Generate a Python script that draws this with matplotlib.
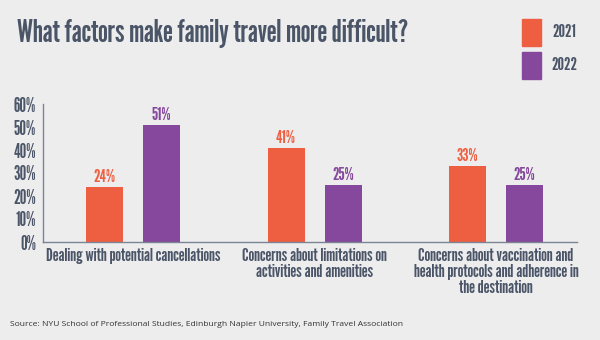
import matplotlib
matplotlib.use("Agg")
import matplotlib.pyplot as plt

# data
categories = ["Dealing with potential cancellations",
              "Concerns about limitations on\nactivities and amenities",
              "Concerns about vaccination and\nhealth protocols and adherence in\nthe destination"]
years = ["2021", "2022"]
v2021 = [24, 41, 33]
v2022 = [51, 25, 25]
yticks = [0, 10, 20, 30, 40, 50, 60]

bg = "#ededed"
orange = "#ee5e40"
purple = "#85489c"
slate = "#4b5568"
cond = ["League Gothic", "DejaVu Sans"]

fig = plt.figure(figsize=(6, 3.4), dpi=100, facecolor=bg)
ax = fig.add_axes([43/600, 98/340, 534/600, 138/340], facecolor=bg)

x = list(range(len(categories)))
w = 0.204
off = 0.157
b1 = ax.bar([i - off for i in x], v2021, w, color=orange)
b2 = ax.bar([i + off for i in x], v2022, w, color=purple)
for bars, vals, c in [(b1, v2021, orange), (b2, v2022, purple)]:
    for r, v in zip(bars, vals):
        ax.text(r.get_x() + r.get_width()/2, v + 0.8, f"{v}%", ha="center", va="bottom",
                color=c, fontsize=13, family=cond)

ax.set_xlim(-0.497, 2.447)
ax.set_ylim(0, 60)
ax.set_yticks(yticks)
ax.set_yticklabels([f"{t}%" for t in yticks], family=cond, fontsize=13.5, color=slate)
ax.set_xticks(x)
ax.set_xticklabels(categories, family=cond, fontsize=13.4, color=slate,
                   linespacing=1.02, va="top")
ax.tick_params(axis="both", length=0, pad=5)
ax.tick_params(axis="x", pad=4)
for s in ["top", "right"]:
    ax.spines[s].set_visible(False)
for s in ["left", "bottom"]:
    ax.spines[s].set_color("#7a8494")
    ax.spines[s].set_linewidth(1)

fig.text(17/600, 1 - 33/340, "What factors make family travel more difficult?",
         family=cond, fontsize=22.5, color=slate, va="center")

# legend
for yy, c, lab in [(19, orange, years[0]), (52, purple, years[1])]:
    fig.patches.append(plt.Rectangle((522/600, 1 - (yy + 27)/340), 19/600, 27/340,
                                     transform=fig.transFigure, color=c))
    fig.text(564/600, 1 - (yy + 13)/340, lab, family=cond,
             fontsize=13, color=slate, ha="center", va="center")

fig.text(10/600, 1 - 325/340,
         "Source: NYU School of Professional Studies, Edinburgh Napier University, Family Travel Association",
         family=["Open Sans", "DejaVu Sans"], fontsize=6.1, color="#333333", va="center")

fig.savefig("out.png", dpi=100, facecolor=bg)
